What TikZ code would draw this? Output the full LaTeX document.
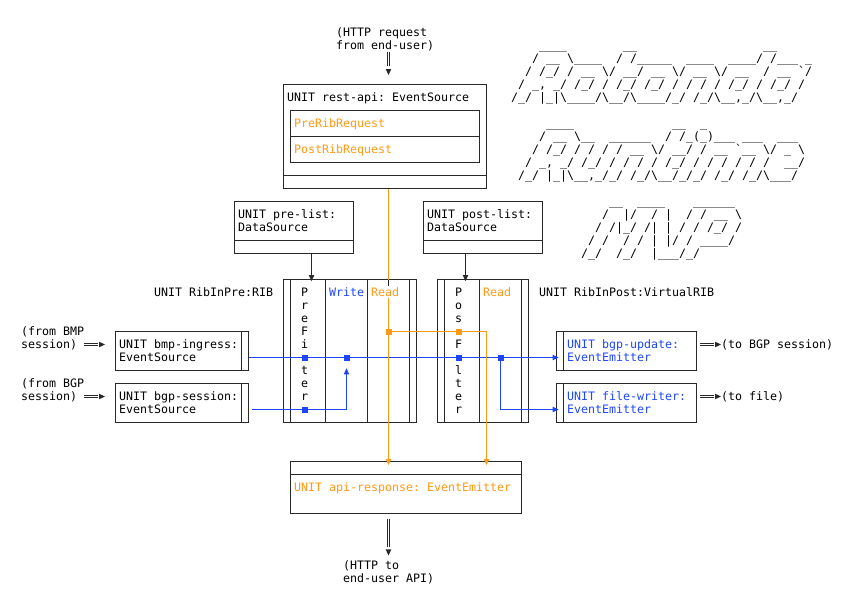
\documentclass[tikz,border=0pt]{standalone}
\usepackage{fontspec}
\setmonofont{DejaVu Sans Mono}
\usetikzlibrary{calc}
\pgfdeclarelayer{bg}
\pgfdeclarelayer{mid}
\pgfsetlayers{bg,mid,main}
\definecolor{orng}{RGB}{255,153,20}
\definecolor{blu}{RGB}{30,70,255}
\definecolor{lncol}{RGB}{40,40,40}
\newcommand\BS{\char92\relax}
\newcommand\US{\char95\relax}
\tikzset{
  txt/.style={anchor=base west, inner sep=0pt, outer sep=0pt, text=black,
    font=\ttfamily\fontsize{11.63pt}{13pt}\selectfont},
  bx/.style 2 args={draw=lncol, line width=0.9pt, inner sep=0pt, outer sep=0pt,
    minimum width=#1*7pt, minimum height=#2*13pt},
  ln/.style={draw=lncol, line width=0.9pt},
  bln/.style={draw=blu, line width=0.9pt},
  oln/.style={draw=orng, line width=0.9pt},
  bsq/.style={fill=blu, inner sep=0pt, outer sep=0pt, minimum size=6pt},
  osq/.style={fill=orng, inner sep=0pt, outer sep=0pt, minimum size=6pt},
}
\newcommand\Tx[5][black]{\node[txt,text=#1] (#2) at (#3,#4+0.8) {#5};}
\newcommand\TriD[2]{\fill[#1] (#2) -- ++(-2.8pt,6pt) -- ++(5.6pt,0pt) -- cycle;}
\newcommand\TriU[2]{\fill[#1] (#2) -- ++(-2.8pt,-6pt) -- ++(5.6pt,0pt) -- cycle;}
\newcommand\TriR[2]{\fill[#1] (#2) -- ++(-6pt,2.8pt) -- ++(0pt,-5.6pt) -- cycle;}
\newcommand\DblV[2]{\draw[lncol, line width=0.8pt] ([xshift=-1.2pt]#1) -- ([xshift=-1.2pt]#2) ([xshift=1.2pt]#1) -- ([xshift=1.2pt]#2);}
\newcommand\DblH[2]{\draw[lncol, line width=0.8pt] ([yshift=-1.2pt]#1) -- ([yshift=-1.2pt]#2) ([yshift=1.2pt]#1) -- ([yshift=1.2pt]#2);}
\begin{document}
\begin{tikzpicture}[x=7pt,y=-13pt]
\begin{pgfonlayer}{bg}
\fill[white] (0,0) rectangle (121.142857,46.076923);
% boxes
\node[bx={29}{8}] (restapi) at (55,10.5) {};
\node[bx={27}{4}] (ribreq) at (55,10.5) {};
\draw[ln] (41.5,10.5) -- (68.5,10.5);
\draw[ln] (40.5,13.5) -- (69.5,13.5);
\node[bx={17}{4}] (prelist) at (42,17.5) {};
\draw[ln] (33.5,18.5) -- (50.5,18.5);
\node[bx={17}{4}] (postlist) at (69,17.5) {};
\draw[ln] (60.5,18.5) -- (77.5,18.5);
\node[bx={19}{11}] (ribpre) at (50,27) {};
\foreach \c in {41.5,46.5,52.5,58.5} \draw[ln] (\c,21.5) -- (\c,32.5);
\node[bx={13}{11}] (ribpost) at (69,27) {};
\foreach \c in {63.5,68.5,74.5} \draw[ln] (\c,21.5) -- (\c,32.5);
\node[bx={19}{3}] (bmp) at (26,27) {};
\draw[ln] (34.5,25.5) -- (34.5,28.5);
\node[bx={19}{3}] (bgps) at (26,31) {};
\draw[ln] (34.5,29.5) -- (34.5,32.5);
\node[bx={20}{3}] (bgpu) at (89.5,27) {};
\draw[ln] (80.5,25.5) -- (80.5,28.5);
\node[bx={20}{3}] (filew) at (89.5,31) {};
\draw[ln] (80.5,29.5) -- (80.5,32.5);
\node[bx={33}{4}] (apiresp) at (58,37.5) {};
\draw[ln] (41.5,36.5) -- (74.5,36.5);
\end{pgfonlayer}
\useasboundingbox (0,0) rectangle (121.142857,46.076923);

% junctions
\node[osq] (o1) at (55.5,25.5) {};
\node[osq] (o2) at (65.5,25.5) {};
\coordinate (o3) at (69.5,25.5);
\node[bsq] (j1) at (43.5,27.5) {};
\node[bsq] (j2) at (49.5,27.5) {};
\node[bsq] (j3) at (65.5,27.5) {};
\node[bsq] (j4) at (71.5,27.5) {};
\node[bsq] (j5) at (43.5,31.5) {};

% arrow tips and free ends
\coordinate (reqA) at (55.5,4.0);
\coordinate (reqB) at (55.5,5.08);
\coordinate (reqtip) at (55.5,5.77);
\coordinate (respA) at (55.5,39.92);
\coordinate (respB) at (55.5,42.08);
\coordinate (resptip) at (55.5,42.73);
\coordinate (pretip) at (44.5,21.62);
\coordinate (posttip) at (66.5,21.62);
\coordinate (butip) at (79.8,27.5);
\coordinate (fwtip) at (79.8,31.5);
\coordinate (wtip) at (49.5,28.33);
\coordinate (otip1) at (55.5,35.77);
\coordinate (otip2) at (69.5,35.77);
\coordinate (readtop) at (55.5,22.0);
\coordinate (readbot) at (55.5,22.92);
\coordinate (inA1) at (12,26.5);
\coordinate (inB1) at (14,26.5);
\coordinate (intip1) at (15,26.5);
\coordinate (inA2) at (12,30.5);
\coordinate (inB2) at (14,30.5);
\coordinate (intip2) at (15,30.5);
\coordinate (outA1) at (100,26.5);
\coordinate (outB1) at (102,26.5);
\coordinate (outtip1) at (103,26.5);
\coordinate (outA2) at (100,30.5);
\coordinate (outB2) at (102,30.5);
\coordinate (outtip2) at (103,30.5);

\begin{pgfonlayer}{mid}
% black connectors
\draw[ln] (prelist.south -| pretip) -- ([yshift=5pt]pretip);
\TriD{lncol}{pretip}
\draw[ln] (postlist.south -| posttip) -- ([yshift=5pt]posttip);
\TriD{lncol}{posttip}
\DblV{reqA}{reqB}
\TriD{lncol}{reqtip}
\DblV{respA}{respB}
\TriD{lncol}{resptip}
\DblH{inA1}{inB1}
\TriR{lncol}{intip1}
\DblH{inA2}{inB2}
\TriR{lncol}{intip2}
\DblH{outA1}{outB1}
\TriR{lncol}{outtip1}
\DblH{outA2}{outB2}
\TriR{lncol}{outtip2}
% blue connectors
\draw[bln] (bmp.east |- j1) -- (j1) -- (j2) -- (j3) -- (j4) -- ([xshift=-5pt]butip);
\TriR{blu}{butip}
\draw[bln] (j4) |- ([xshift=-5pt]fwtip);
\TriR{blu}{fwtip}
\draw[bln] ([xshift=3.5pt]bgps.east |- j5) -- (j5) -- (j5 -| j2) -- ([yshift=-5pt]wtip);
\TriU{blu}{wtip}
% orange connectors
\draw[oln] (restapi.south -| o1) -- (ribpre.north -| o1);
\draw[ln] (ribpre.north -| o1) -- (readtop);
\draw[oln] (readbot) -- (o1) -- ([yshift=5pt]otip1);
\TriD{orng}{otip1}
\draw[oln] (o1) -- (o2) -- (o3) -- ([yshift=5pt]otip2);
\TriD{orng}{otip2}
\end{pgfonlayer}

% texts
\Tx{req1}{48}{2}{(HTTP request}
\Tx{req2}{48}{3}{from end-user)}
\Tx{restlbl}{41}{7}{UNIT rest-api: EventSource}
\Tx[orng]{prereq}{42}{9}{PreRibRequest}
\Tx[orng]{postreq}{42}{11}{PostRibRequest}
\Tx{prel1}{34}{16}{UNIT pre-list:}
\Tx{prel2}{34}{17}{DataSource}
\Tx{postl1}{61}{16}{UNIT post-list:}
\Tx{postl2}{61}{17}{DataSource}
\Tx{riblbl1}{22}{22}{UNIT RibInPre:RIB}
\Tx{riblbl2}{77}{22}{UNIT RibInPost:VirtualRIB}
\Tx[blu]{write}{47}{22}{Write}
\Tx[orng]{read1}{53}{22}{Read}
\Tx[orng]{read2}{69}{22}{Read}
\foreach \r/\ch in {22/P,23/r,24/e,25/F,26/i,28/t,29/e,30/r}
  \node[txt] (pre\r) at (43,\r+0.8) {\ch};
\foreach \r/\ch in {22/P,23/o,24/s,26/F,28/l,29/t,30/e,31/r}
  \node[txt] (post\r) at (65,\r+0.8) {\ch};
\Tx{fbmp1}{3}{25}{(from BMP}
\Tx{fbmp2}{3}{26}{session)}
\Tx{fbgp1}{3}{29}{(from BGP}
\Tx{fbgp2}{3}{30}{session)}
\Tx{bmp1}{17}{26}{UNIT bmp-ingress:}
\Tx{bmp2}{17}{27}{EventSource}
\Tx{bgps1}{17}{30}{UNIT bgp-session:}
\Tx{bgps2}{17}{31}{EventSource}
\Tx[blu]{bgpu1}{81}{26}{UNIT bgp-update:}
\Tx[blu]{bgpu2}{81}{27}{EventEmitter}
\Tx[blu]{fw1}{81}{30}{UNIT file-writer:}
\Tx[blu]{fw2}{81}{31}{EventEmitter}
\Tx{tobgp}{103}{26}{(to BGP session)}
\Tx{tofile}{103}{30}{(to file)}
\Tx[orng]{apilbl}{42}{37}{UNIT api-response: EventEmitter}
\Tx{resp1}{49}{43}{(HTTP to}
\Tx{resp2}{49}{44}{end-user API)}

% banner: Rotonda
\Tx{rot1}{77}{3}{\US\US\US\US~~~~~~~~\US\US~~~~~~~~~~~~~~~~~~\US\US}
\Tx{rot2}{76}{4}{/~\US\US~\BS\US\US\US\US~~/~/\US\US\US\US\US~~\US\US\US\US~~\US\US\US\US/~/\US\US\US~\US}
\Tx{rot3}{75}{5}{/~/\US/~/~\US\US~\BS/~\US\US/~\US\US~\BS/~\US\US~\BS/~\US\US~~/~\US\US~`/}
\Tx{rot4}{74}{6}{/~\US,~\US/~/\US/~/~/\US/~/\US/~/~/~/~/~/\US/~/~/\US/~/}
\Tx{rot5}{73}{7}{/\US/~|\US|\BS\US\US\US\US/\BS\US\US/\BS\US\US\US\US/\US/~/\US/\BS\US\US,\US/\BS\US\US,\US/}
% banner: Runtime
\Tx{run1}{78}{9}{\US\US\US\US~~~~~~~~~~~~~~\US\US~~\US}
\Tx{run2}{77}{10}{/~\US\US~\BS\US\US~~\US\US\US\US\US\US~~/~/\US(\US)\US\US\US~\US\US\US~~\US\US\US}
\Tx{run3}{76}{11}{/~/\US/~/~/~/~/~\US\US~\BS/~\US\US/~/~\US\US~`\US\US~\BS/~\US~\BS}
\Tx{run4}{75}{12}{/~\US,~\US/~/\US/~/~/~/~/~/\US/~/~/~/~/~/~/~~\US\US/}
\Tx{run5}{74}{13}{/\US/~|\US|\BS\US\US,\US/\US/~/\US/\BS\US\US/\US/\US/~/\US/~/\US/\BS\US\US\US/}
% banner: MVP
\Tx{mvp1}{87}{15}{\US\US~~\US\US\US\US~~~~\US\US\US\US\US\US}
\Tx{mvp2}{86}{16}{/~~|/~~/~|~~/~/~\US\US~\BS}
\Tx{mvp3}{85}{17}{/~/|\US/~/|~|~/~/~/\US/~/}
\Tx{mvp4}{84}{18}{/~/~~/~/~|~|/~/~\US\US\US\US/}
\Tx{mvp5}{83}{19}{/\US/~~/\US/~~|\US\US\US/\US/}
\end{tikzpicture}
\end{document}
